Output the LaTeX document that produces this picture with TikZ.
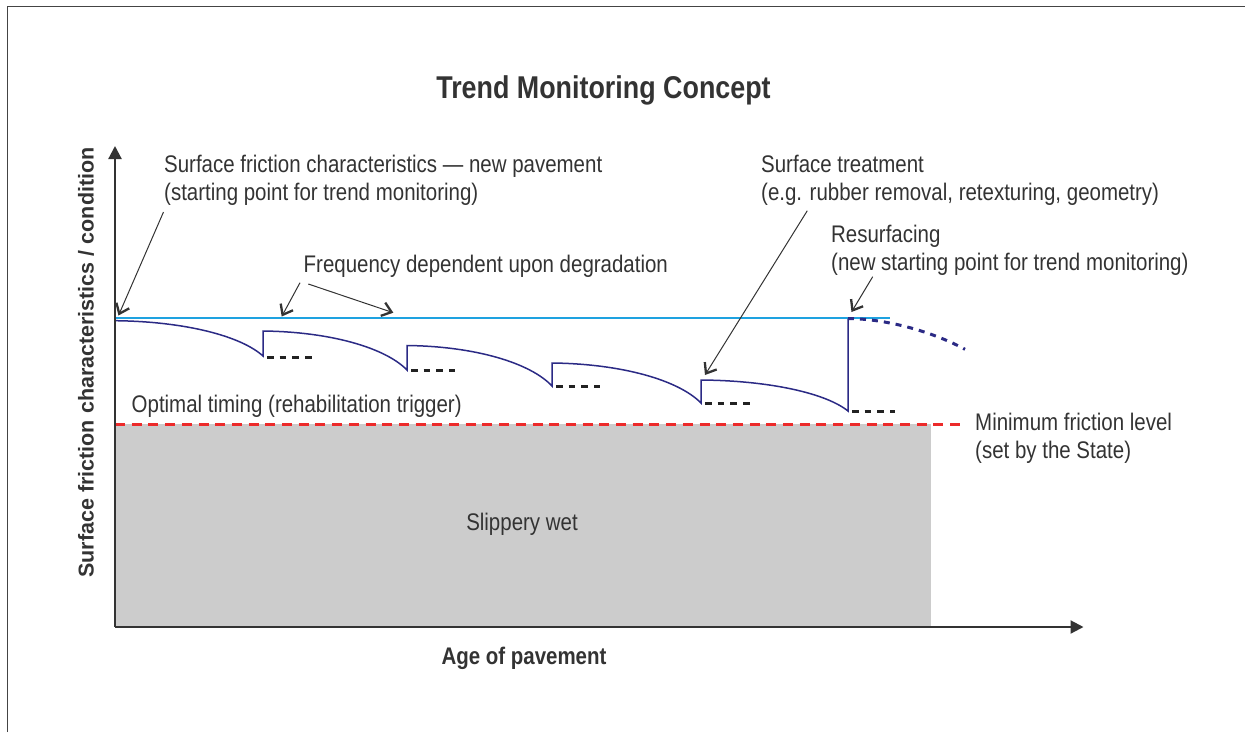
\documentclass[tikz,border=0pt]{standalone}
\usepackage{fontspec}
\setmainfont{Liberation Sans}[FakeStretch=0.853]
\newfontfamily\axisfont{Liberation Sans}
\usetikzlibrary{arrows.meta}
\definecolor{txt}{HTML}{333333}
\definecolor{framec}{HTML}{444444}
\definecolor{navy}{HTML}{2B2A85}
\definecolor{sky}{HTML}{1EA2E0}
\definecolor{redc}{HTML}{EC2A2A}
\definecolor{slip}{HTML}{CCCCCC}
\definecolor{dashc}{HTML}{222222}
\begin{document}
\begin{tikzpicture}[x=1pt,y=-1pt,
  lbl/.style={inner sep=0pt, text=txt, font=\fontsize{24}{28}\selectfont, anchor=base west},
  boldlbl/.style={inner sep=0pt, text=txt, font=\bfseries\fontsize{24}{28}\selectfont, anchor=base},
  ann/.style={draw=txt, line width=1pt, -{Straight Barb[length=9pt,width=14pt,line width=2.3pt]}},
  axis/.style={draw=txt, line width=2.2pt, -{Triangle[length=13pt,width=13pt]}},
  wear/.style={draw=navy, line width=1.5pt},
  future/.style={draw=navy, line width=3pt, dash pattern=on 6pt off 6pt},
  mark4/.style={draw=dashc, line width=2.6pt, dash pattern=on 6.7pt off 6pt},
  minline/.style={draw=redc, line width=3pt, dash pattern=on 10pt off 6.7pt},
  newline/.style={draw=sky, line width=1.6pt}
]
\useasboundingbox (0,0) rectangle (1245,732);
% frame
\draw[framec, line width=1.4pt] (7.5,732) -- (7.5,6.3) -- (1245,6.3);

% slippery zone
\fill[slip] (115,424) rectangle (931,627);
\node[lbl, anchor=base] (slipwet) at (522,530) {Slippery wet};

% minimum friction level
\draw[minline] (115,424) -- (963,424);

% new pavement level
\draw[newline] (115,317.7) -- (890,317.7);

% friction trend curve
\draw[wear] (115,320.7) .. controls (184.6,321.4) and (240.8,335.9) .. (263,356)
  -- (263,331) .. controls (330.7,331.8) and (385.4,347.8) .. (407,370)
  -- (407,345.5) .. controls (475.2,346.3) and (530.3,362.9) .. (552,386)
  -- (552,363) .. controls (622,363.8) and (678.7,380.2) .. (701,403)
  -- (701,380) .. controls (770,380.6) and (826,393.3) .. (848,411)
  -- (848,318.5);
\draw[future] (848,318.5) .. controls (890,319) and (935,333) .. (965,349.3);

% optimal timing marks
\draw[mark4] (267,357.7) -- (312,357.7);
\draw[mark4] (411,370.5) -- (455,370.5);
\draw[mark4] (556,386.5) -- (600,386.5);
\draw[mark4] (705,403.3) -- (750,403.3);
\draw[mark4] (852,411.3) -- (895,411.3);

% axes
\coordinate (O) at (115,627);
\coordinate (ytip) at (115,146);
\coordinate (xtip) at (1083.5,627);
\draw[axis] (O) -- (ytip);
\draw[axis] (O) -- (xtip);

% title and axis labels
\node[inner sep=0pt, text=txt, font=\bfseries\fontsize{31.5}{38}\selectfont, anchor=base] (title) at (603.5,98) {Trend Monitoring Concept};
\node[boldlbl] (age) at (524,664) {Age of pavement};
\node[inner sep=0pt, text=txt, rotate=90, font=\axisfont\bfseries\fontsize{21.5}{25}\selectfont] (ylab) at (86,362.5) {Surface friction characteristics / condition};

% annotations
\node[lbl] (sf1) at (164,172.5) {Surface friction characteristics — new pavement};
\node[lbl] (sf2) at (164,200.5) {(starting point for trend monitoring)};
\node[lbl] (freq) at (303.5,272) {Frequency dependent upon degradation};
\node[lbl] (st1) at (761,172.5) {Surface treatment};
\node[lbl] (st2) at (761,200.5) {(e.g. rubber removal, retexturing, geometry)};
\node[lbl] (rs1) at (831,242) {Resurfacing};
\node[lbl] (rs2) at (831,270) {(new starting point for trend monitoring)};
\node[lbl] (opt) at (131.5,412) {Optimal timing (rehabilitation trigger)};
\node[lbl] (min1) at (975,430.5) {Minimum friction level};
\node[lbl] (min2) at (975,458.5) {(set by the State)};

% annotation arrows
\coordinate (a1s) at (163.5,212);   \coordinate (a1e) at (118.5,315.5);
\coordinate (a2s) at (300,282.7);   \coordinate (a2e) at (281.7,316.5);
\coordinate (a3s) at (308.3,284);   \coordinate (a3e) at (393.3,312.7);
\coordinate (a4s) at (807.3,210.7); \coordinate (a4e) at (705,375);
\coordinate (a5s) at (872.7,276.7); \coordinate (a5e) at (851.5,312);
\draw[ann] (a1s) -- (a1e);
\draw[ann] (a2s) -- (a2e);
\draw[ann] (a3s) -- (a3e);
\draw[ann] (a4s) -- (a4e);
\draw[ann] (a5s) -- (a5e);
\end{tikzpicture}
\end{document}
